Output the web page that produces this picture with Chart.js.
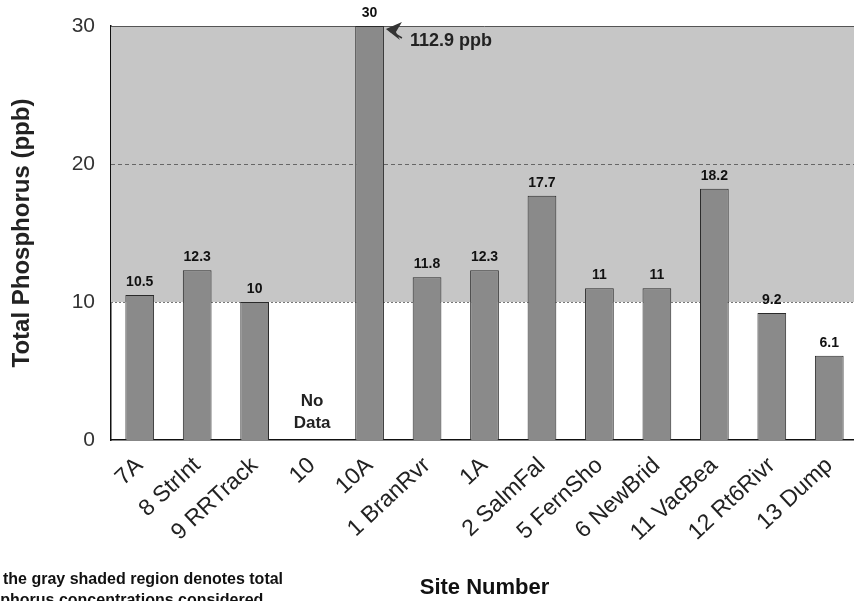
<!DOCTYPE html>
<html>
<head>
<meta charset="utf-8">
<script src="https://cdn.jsdelivr.net/npm/chart.js@4"></script>
<style>
  html, body { margin: 0; padding: 0; background: #fff; overflow: hidden; }
  #wrap { width: 862px; height: 601px; position: relative; }
</style>
</head>
<body>
<div id="wrap"><canvas id="chart1"></canvas></div>
<script>
/************* data ********* */
const sites = ["7A", "8 StrInt", "9 RRTrack", "10", "10A", "1 BranRvr", "1A",
  "2 SalmFal", "5 FernSho", "6 NewBrid", "11 VacBea", "12 Rt6Rivr", "13 Dump"];
const phosphorus = [10.5, 12.3, 10, null, 30, 11.8, 12.3, 17.7, 11, 11, 18.2, 9.2, 6.1];
const yTicks = [0, 10, 20, 30];
const shadeFrom = 10;      // gray region: concentrations considered high
const offScale = { index: 4, text: "112.9 ppb" };
const noData = { index: 3, lines: ["No", "Data"] };
const noteLines = ["the gray shaded region denotes total", "phosphorus concentrations considered"];

const FONT = "'Liberation Sans', Arial, sans-serif";

/************* plugin: shading, labels, notes ********* */
const extras = {
  id: 'extras',
  beforeDatasetsDraw(chart) {
    const { ctx, chartArea: a, scales: { y } } = chart;
    const yTop = y.getPixelForValue(30);
    const yLow = y.getPixelForValue(shadeFrom);
    ctx.save();
    ctx.fillStyle = '#c6c6c6';
    ctx.fillRect(a.left, yTop, a.right - a.left, yLow - yTop);
    // boundary at 10
    ctx.strokeStyle = '#777';
    ctx.setLineDash([2, 2]);
    ctx.lineWidth = 1;
    ctx.beginPath();
    ctx.moveTo(a.left, yLow + 0.5);
    ctx.lineTo(a.right, yLow + 0.5);
    ctx.stroke();
    // dashed line at 20
    const y20 = Math.round(y.getPixelForValue(20)) + 0.5;
    ctx.strokeStyle = '#666';
    ctx.setLineDash([4, 3]);
    ctx.beginPath();
    ctx.moveTo(a.left, y20);
    ctx.lineTo(a.right, y20);
    ctx.stroke();
    // top border
    ctx.setLineDash([]);
    ctx.strokeStyle = '#555';
    ctx.beginPath();
    ctx.moveTo(a.left, Math.round(yTop) + 0.5);
    ctx.lineTo(a.right, Math.round(yTop) + 0.5);
    ctx.stroke();
    ctx.restore();
  },
  afterDatasetsDraw(chart) {
    const { ctx, scales: { x, y } } = chart;
    const meta = chart.getDatasetMeta(0);
    ctx.save();
    ctx.fillStyle = '#111';
    ctx.textAlign = 'center';
    ctx.textBaseline = 'bottom';
    ctx.font = 'bold 14px ' + FONT;
    meta.data.forEach((bar, i) => {
      const v = phosphorus[i];
      if (v === null) return;
      ctx.fillText(String(v), bar.x, bar.y - 6);
    });
    // No Data
    const nx = x.getPixelForValue(noData.index);
    ctx.font = 'bold 17px ' + FONT;
    ctx.fillStyle = '#222';
    ctx.fillText(noData.lines[0], nx, y.getPixelForValue(2.2));
    ctx.fillText(noData.lines[1], nx, y.getPixelForValue(0.6));
    // off-scale arrow
    const b = meta.data[offScale.index];
    const ax = b.x + b.width / 2 + 2;
    const ay = b.y + 3;
    ctx.strokeStyle = '#333';
    ctx.fillStyle = '#333';
    ctx.lineWidth = 1.5;
    ctx.beginPath();
    ctx.moveTo(ax + 16, ay + 9);
    ctx.lineTo(ax + 4, ay + 2);
    ctx.stroke();
    ctx.beginPath();
    ctx.moveTo(ax, ay);
    ctx.lineTo(ax + 16, ay - 7);
    ctx.lineTo(ax + 10, ay + 3);
    ctx.lineTo(ax + 14, ay + 11);
    ctx.closePath();
    ctx.fill();
    ctx.font = 'bold 18px ' + FONT;
    ctx.textAlign = 'left';
    ctx.textBaseline = 'middle';
    ctx.fillStyle = '#222';
    ctx.fillText(offScale.text, ax + 24, ay + 12);
    // note bottom-left (cut by the page edge)
    ctx.font = 'bold 16px ' + FONT;
    ctx.textAlign = 'left';
    ctx.textBaseline = 'alphabetic';
    ctx.fillStyle = '#111';
    ctx.fillText(noteLines[0], 3, 584);
    ctx.fillText(noteLines[1], -38, 605);
    ctx.restore();
  }
};

new Chart("chart1", {
  type: "bar",
  data: {
    labels: sites,
    datasets: [{
      data: phosphorus,
      backgroundColor: '#8a8a8a',
      borderColor: '#2a2a2a',
      borderWidth: 1,
      categoryPercentage: 1,
      barPercentage: 0.5
    }]
  },
  options: {
    responsive: true,
    maintainAspectRatio: false,
    animation: false,
    layout: { padding: { top: 26, right: 4, bottom: 0, left: 0 } },
    plugins: {
      legend: { display: false },
      tooltip: { enabled: false }
    },
    scales: {
      x: {
        grid: { display: false, drawTicks: false },
        border: { color: '#111', width: 1.5 },
        ticks: {
          minRotation: 43, maxRotation: 43,
          autoSkip: false,
          color: '#222',
          padding: 12,
          font: { family: FONT, size: 23 }
        },
        title: {
          display: true,
          text: 'Site Number',
          color: '#111',
          font: { family: FONT, size: 22, weight: 'bold' },
          padding: { top: 0, bottom: 0 }
        },
        afterFit(scale) { scale.height = 161; }
      },
      y: {
        min: 0, max: 30,
        afterBuildTicks(scale) { scale.ticks = yTicks.map(v => ({ value: v })); },
        grid: { display: false, drawTicks: false },
        border: { color: '#111', width: 1.5 },
        ticks: {
          color: '#333',
          padding: 16,
          font: { family: FONT, size: 21 }
        },
        title: {
          display: true,
          text: 'Total Phosphorus (ppb)',
          color: '#222',
          font: { family: FONT, size: 24, weight: 'bold' },
          padding: { top: 8, bottom: 0 }
        },
        afterFit(scale) {
          scale.width = 111;
          scale.paddingTop = 0;
          scale.paddingBottom = 0;
        }
      }
    }
  },
  plugins: [extras]
});
</script>
</body>
</html>
